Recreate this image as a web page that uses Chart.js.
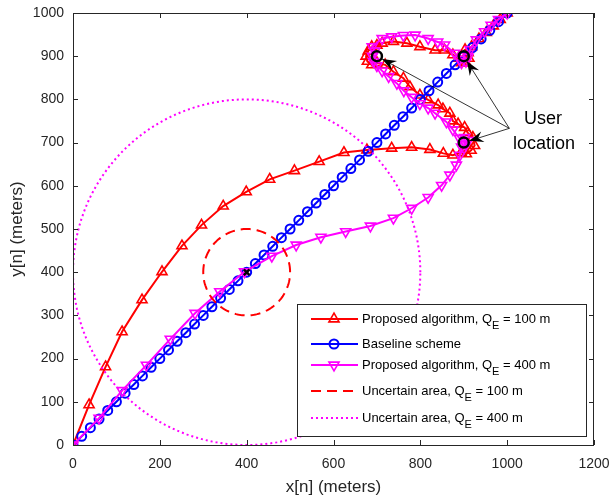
<!DOCTYPE html>
<html>
<head>
<meta charset="utf-8">
<script src="https://cdn.jsdelivr.net/npm/chart.js@4.4.1/dist/chart.umd.min.js"></script>
<style>
  body { margin: 0; background: #fff; }
  #wrap { width: 613px; height: 498px; }
</style>
</head>
<body>
<div id="wrap"><canvas id="traj" width="613" height="498"></canvas></div>
<script>
// trajectory, proposed algorithm, Q_E = 100 m
let redX = [0, 37, 75, 113, 159, 205, 251, 296, 346, 399, 453, 510, 567, 624, 677, 734, 780, 822, 853, 875,
  894, 906, 917, 925, 921, 909, 902, 887, 875, 868, 852, 841, 818, 799, 776, 761, 738, 719,
  700, 688, 678, 675, 680, 688, 700, 712, 738, 769, 799, 834, 856, 875,
  888, 895, 905, 912, 910, 903, 918, 935, 952, 968, 984, 1000];
let redY = [0, 93, 181, 262, 336, 401, 461, 509, 553, 586, 615, 635, 656, 677, 683, 687, 689, 684, 675, 671,
  677, 674, 682, 693, 712, 723, 735, 743, 750, 768, 778, 787, 799, 810, 829, 849, 864, 880,
  885, 880, 888, 900, 912, 922, 925, 930, 934, 930, 922, 914, 914, 903,
  895, 885, 885, 895, 908, 915, 922, 940, 955, 970, 985, 1000];

// baseline scheme (straight flight)
let blueX = [0, 20, 40, 60, 80, 100, 120, 140, 160, 180, 200, 220, 240, 260, 280, 300, 320, 340, 360, 380,
  400, 420, 440, 460, 480, 500, 520, 540, 560, 580, 600, 620, 640, 660, 680, 700, 720, 740, 760, 780,
  800, 820, 840, 860, 880, 900, 920, 940, 960, 980, 1000];
let blueY = [0, 20, 40, 60, 80, 100, 120, 140, 160, 180, 200, 220, 240, 260, 280, 300, 320, 340, 360, 380,
  400, 420, 440, 460, 480, 500, 520, 540, 560, 580, 600, 620, 640, 660, 680, 700, 720, 740, 760, 780,
  800, 820, 840, 860, 880, 900, 920, 940, 960, 980, 1000];

// trajectory, proposed algorithm, Q_E = 400 m
let magX = [0, 60, 113, 169, 224, 281, 338, 395, 458, 514, 571, 628, 685, 738, 780, 818, 849, 868, 883, 891,
  895, 905, 910, 902, 890, 875, 860, 834, 818, 799, 780, 762, 746, 727, 712,
  700, 692, 690, 695, 689, 712, 734, 761, 788, 818, 840, 856, 879,
  890, 895, 905, 910, 915, 929, 948, 963, 980, 1000];
let magY = [0, 62, 126, 185, 245, 305, 355, 401, 437, 463, 481, 494, 507, 525, 548, 573, 601, 625, 648, 671,
  690, 695, 705, 712, 710, 730, 748, 768, 780, 790, 805, 820, 837, 853, 866,
  878, 888, 900, 912, 922, 941, 945, 948, 949, 941, 933, 926, 907,
  893, 885, 888, 898, 915, 938, 957, 972, 985, 1000];

// uncertain areas
let estCenter = [400, 400];
let radii = [100, 400];

// users
let userX = [700, 900, 900];
let userY = [900, 900, 700];
let noteAt = [1005, 733];
let noteText = ["User", "location"];

let xTicks = [0, 200, 400, 600, 800, 1000, 1200];
let yTicks = [0, 100, 200, 300, 400, 500, 600, 700, 800, 900, 1000];

const axisColor = "#262626";
const font = "'Liberation Sans', Arial, Helvetica, sans-serif";

function pts(xs, ys) {
  return xs.map((v, i) => ({ x: v, y: ys[i] }));
}

function circlePts(c, r) {
  let out = [];
  for (let a = 0; a <= 360; a += 2) {
    let t = (a * Math.PI) / 180;
    out.push({ x: c[0] + r * Math.cos(t), y: c[1] + r * Math.sin(t) });
  }
  return out;
}

let datasets = [
  {
    label: "Proposed algorithm, Q_E = 100 m",
    data: pts(redX, redY),
    borderColor: "#ff0000", borderWidth: 2, showLine: true,
    pointStyle: "triangle", pointRadius: 5.8, pointBorderWidth: 1.6,
    pointBackgroundColor: "rgba(0,0,0,0)", pointBorderColor: "#ff0000",
    order: 6,
  },
  {
    label: "Baseline scheme",
    data: pts(blueX, blueY),
    borderColor: "#0000ff", borderWidth: 2, showLine: true,
    pointStyle: "circle", pointRadius: 4.5, pointBorderWidth: 2,
    pointBackgroundColor: "rgba(0,0,0,0)", pointBorderColor: "#0000ff",
    order: 5,
  },
  {
    label: "Proposed algorithm, Q_E = 400 m",
    data: pts(magX, magY),
    borderColor: "#ff00ff", borderWidth: 2, showLine: true,
    pointStyle: "triangle", pointRotation: 180, pointRadius: 5.8, pointBorderWidth: 1.6,
    pointBackgroundColor: "rgba(0,0,0,0)", pointBorderColor: "#ff00ff",
    order: 4,
  },
  {
    label: "Uncertain area, Q_E = 100 m",
    data: circlePts(estCenter, radii[0]),
    borderColor: "#ff0000", borderWidth: 2, borderDash: [10, 6], showLine: true,
    pointRadius: 0, order: 3,
  },
  {
    label: "Uncertain area, Q_E = 400 m",
    data: circlePts(estCenter, radii[1]),
    borderColor: "#ff00ff", borderWidth: 2, borderDash: [2, 3], showLine: true,
    pointRadius: 0, order: 2,
  },
  {
    label: "users",
    data: pts(userX, userY),
    showLine: false, pointStyle: "circle", pointRadius: 5, pointBorderWidth: 2.5,
    pointBackgroundColor: "rgba(0,0,0,0)", pointBorderColor: "#000", order: 1,
    noLegend: true,
  },
  {
    label: "estimated",
    data: [{ x: estCenter[0], y: estCenter[1] }],
    showLine: false, pointStyle: "crossRot", pointRadius: 4, pointBorderWidth: 2.5,
    pointBorderColor: "#000", order: 0,
    noLegend: true,
  },
];

function marker(ctx, style, x, y, r, rot) {
  ctx.beginPath();
  if (style === "circle") {
    ctx.arc(x, y, r, 0, Math.PI * 2);
  } else if (style === "triangle") {
    let s = rot ? 1 : -1;
    ctx.moveTo(x, y + s * r);
    ctx.lineTo(x - r * 0.87, y - s * r * 0.5);
    ctx.lineTo(x + r * 0.87, y - s * r * 0.5);
    ctx.closePath();
  }
  ctx.stroke();
}

const boxAndNotes = {
  id: "boxAndNotes",
  afterDatasetsDraw(chart) {
    const ctx = chart.ctx;
    const a = chart.chartArea;
    const sx = chart.scales.x, sy = chart.scales.y;
    ctx.save();

    // arrows to the users
    let ox = sx.getPixelForValue(noteAt[0]), oy = sy.getPixelForValue(noteAt[1]);
    ctx.strokeStyle = "#000";
    ctx.fillStyle = "#000";
    ctx.lineWidth = 0.8;
    userX.forEach((ux, i) => {
      let px = sx.getPixelForValue(ux), py = sy.getPixelForValue(userY[i]);
      let ang = Math.atan2(py - oy, px - ox);
      let tx = px - 6 * Math.cos(ang), ty = py - 6 * Math.sin(ang);
      ctx.beginPath();
      ctx.moveTo(ox, oy);
      ctx.lineTo(tx, ty);
      ctx.stroke();
      ctx.save();
      ctx.translate(tx, ty);
      ctx.rotate(ang);
      ctx.beginPath();
      ctx.moveTo(0, 0);
      ctx.lineTo(-14, -5.5);
      ctx.lineTo(-9, 0);
      ctx.lineTo(-14, 5.5);
      ctx.closePath();
      ctx.fill();
      ctx.restore();
    });

    ctx.font = "18px " + font;
    ctx.textAlign = "center";
    ctx.textBaseline = "middle";
    ctx.fillStyle = "#000";
    ctx.fillText(noteText[0], 543, 119);
    ctx.fillText(noteText[1], 544, 144);

    // box with inward ticks
    ctx.strokeStyle = axisColor;
    ctx.lineWidth = 1;
    ctx.strokeRect(a.left + 0.5, a.top + 0.5, a.right - a.left - 1, a.bottom - a.top);
    ctx.beginPath();
    xTicks.forEach((v) => {
      let p = Math.round(sx.getPixelForValue(v)) + 0.5;
      ctx.moveTo(p, a.bottom); ctx.lineTo(p, a.bottom - 5);
      ctx.moveTo(p, a.top); ctx.lineTo(p, a.top + 5);
    });
    yTicks.forEach((v) => {
      let p = Math.round(sy.getPixelForValue(v)) + 0.5;
      ctx.moveTo(a.left, p); ctx.lineTo(a.left + 5, p);
      ctx.moveTo(a.right, p); ctx.lineTo(a.right - 5, p);
    });
    ctx.stroke();

    // legend
    const L = { left: 297, top: 304, right: 586, bottom: 436 };
    const rows = [319, 344, 365, 391, 418];
    ctx.fillStyle = "#fff";
    ctx.fillRect(L.left, L.top, L.right - L.left, L.bottom - L.top);
    ctx.strokeStyle = axisColor;
    ctx.lineWidth = 1;
    ctx.strokeRect(L.left + 0.5, L.top + 0.5, L.right - L.left, L.bottom - L.top);
    let items = chart.data.datasets.filter((d) => !d.noLegend);
    items.forEach((d, i) => {
      let y = rows[i];
      ctx.save();
      ctx.strokeStyle = d.borderColor;
      ctx.lineWidth = 2;
      ctx.setLineDash(d.borderDash || []);
      ctx.beginPath();
      ctx.moveTo(311, y);
      ctx.lineTo(358, y);
      ctx.stroke();
      ctx.setLineDash([]);
      if (d.pointRadius > 0) {
        ctx.lineWidth = d.pointBorderWidth;
        marker(ctx, d.pointStyle, 334, y, d.pointRadius, d.pointRotation);
      }
      ctx.restore();
      let parts = d.label.split("_");
      ctx.fillStyle = "#000";
      ctx.textAlign = "left";
      ctx.textBaseline = "middle";
      ctx.font = "13px " + font;
      let tx = 362;
      ctx.fillText(parts[0], tx, y);
      if (parts.length > 1) {
        tx += ctx.measureText(parts[0]).width;
        ctx.font = "11px " + font;
        ctx.fillText(parts[1][0], tx, y + 7);
        tx += ctx.measureText(parts[1][0]).width;
        ctx.font = "13px " + font;
        ctx.fillText(parts[1].slice(1), tx, y);
      }
    });
    ctx.restore();
  },
};

const chart = new Chart(document.getElementById("traj"), {
  type: "scatter",
  data: { datasets: datasets },
  options: {
    responsive: false,
    animation: false,
    devicePixelRatio: 1,
    layout: { padding: { left: 0, top: 13, right: 19, bottom: 0 } },
    plugins: { legend: { display: false }, tooltip: { enabled: false } },
    scales: {
      x: {
        type: "linear", min: 0, max: 1200,
        afterBuildTicks: (s) => { s.ticks = xTicks.map((v) => ({ value: v })); },
        afterFit: (s) => { s.height = 53; s.paddingLeft = 0; s.paddingRight = 0; },
        grid: { display: false, drawTicks: false },
        border: { display: false },
        ticks: { color: axisColor, font: { size: 14, family: font }, padding: 11, maxRotation: 0, callback: (v) => String(v) },
        title: { display: true, text: "x[n] (meters)", color: axisColor, font: { size: 17, family: font }, padding: { top: 2, bottom: 0 } },
      },
      y: {
        type: "linear", min: 0, max: 1000,
        afterBuildTicks: (s) => { s.ticks = yTicks.map((v) => ({ value: v })); },
        afterFit: (s) => { s.width = 73; s.paddingTop = 0; s.paddingBottom = 0; },
        grid: { display: false, drawTicks: false },
        border: { display: false },
        ticks: { color: axisColor, font: { size: 14, family: font }, padding: 9, callback: (v) => String(v) },
        title: { display: true, text: "y[n] (meters)", color: axisColor, font: { size: 17, family: font }, padding: { top: 7, bottom: 0 } },
      },
    },
  },
  plugins: [boxAndNotes],
});
</script>
</body>
</html>
